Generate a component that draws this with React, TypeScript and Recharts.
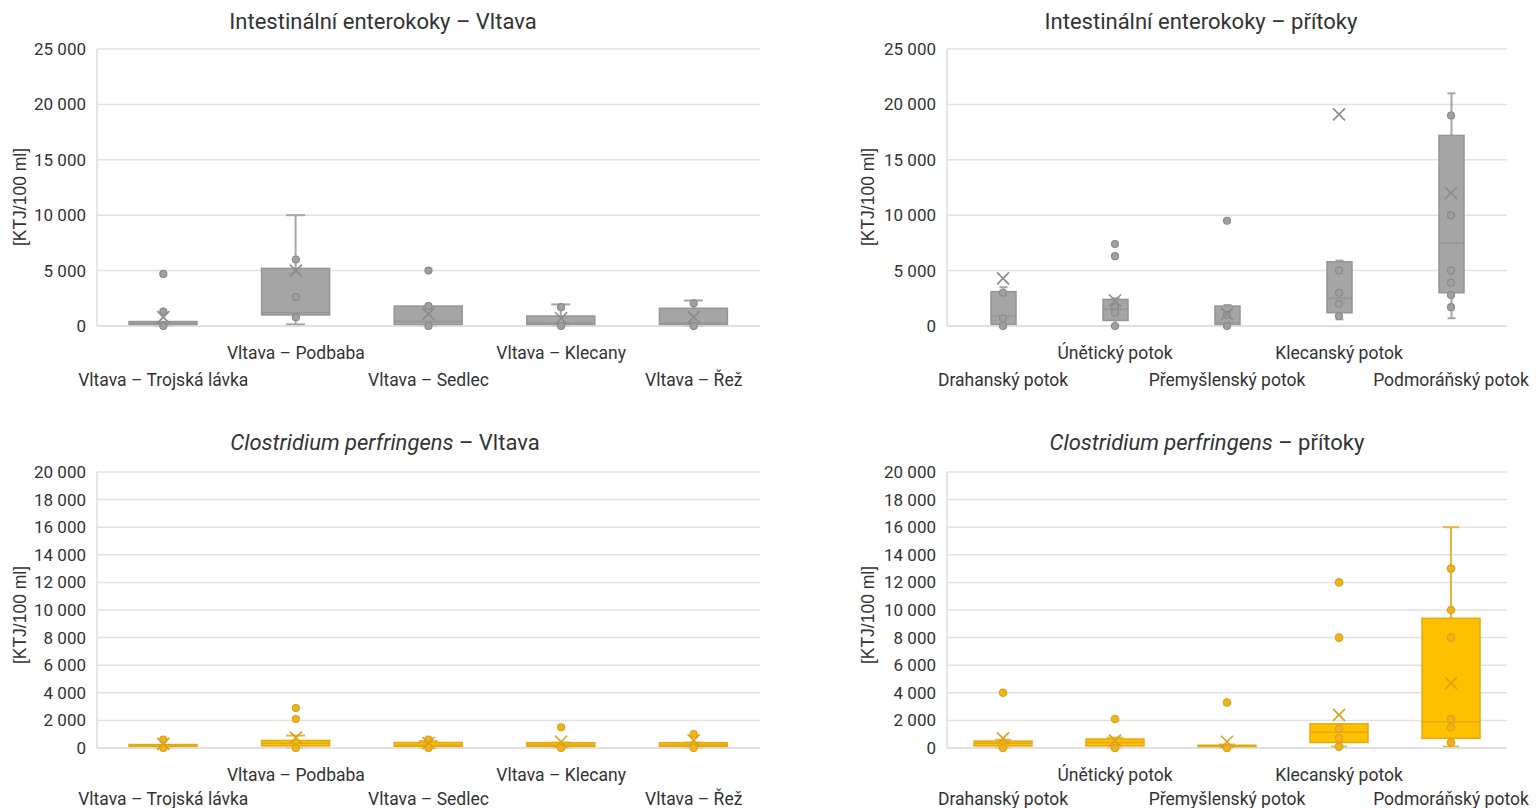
import React from 'react';
import { ComposedChart, Bar, Line, XAxis, YAxis, CartesianGrid } from 'recharts';

// ---------- categories ----------
const vltavaSites = ['Vltava – Trojská lávka', 'Vltava – Podbaba', 'Vltava – Sedlec', 'Vltava – Klecany', 'Vltava – Řež'];
const tributaries = ['Drahanský potok', 'Únětický potok', 'Přemyšlenský potok', 'Klecanský potok', 'Podmoráňský potok'];

// ---------- tick values ----------
const entTicks = [0, 5000, 10000, 15000, 20000, 25000];
const clostTicks = [0, 2000, 4000, 6000, 8000, 10000, 12000, 14000, 16000, 18000, 20000];

// ---------- Intestinální enterokoky – Vltava : [min, q1, median, q3, max] ----------
const entVltavaBox = [
  [0, 100, 200, 400, 400],
  [150, 1000, 1200, 5200, 10000],
  [0, 100, 400, 1800, 1800],
  [0, 100, 250, 900, 1950],
  [0, 100, 250, 1600, 2300],
];
const entVltavaMean = [800, 5000, 1100, 700, 800];
const entVltavaPoints = [[4700, 1300, 0], [6000, 2600, 800], [5000, 1800, 0], [1700, 0], [2050, 0]];

// ---------- Intestinální enterokoky – přítoky ----------
const entTribBox = [
  [0, 150, 900, 3100, 3500],
  [0, 500, 1500, 2400, 2500],
  [0, 100, 300, 1800, 1900],
  [600, 1200, 2500, 5800, 5900],
  [700, 3000, 7500, 17200, 21000],
];
const entTribMean = [4300, 2300, 1100, 19100, 12000];
const entTribPoints = [
  [3000, 700, 0],
  [7400, 6300, 1700, 1200, 0],
  [9500, 1000, 0],
  [5000, 3000, 2000, 900],
  [19000, 10000, 5000, 3900, 2800, 1700],
];

// ---------- Clostridium perfringens – Vltava ----------
const clostVltavaBox = [
  [0, 100, 150, 250, 250],
  [0, 150, 350, 550, 900],
  [0, 100, 200, 400, 500],
  [0, 100, 200, 380, 400],
  [0, 100, 200, 380, 400],
];
const clostVltavaMean = [300, 750, 350, 450, 550];
const clostVltavaPoints = [[600, 0], [2900, 2100, 0], [600, 0], [1500, 0], [1000, 0]];

// ---------- Clostridium perfringens – přítoky ----------
const clostTribBox = [
  [0, 150, 350, 500, 600],
  [0, 150, 400, 650, 750],
  [0, 50, 100, 200, 250],
  [100, 400, 1150, 1750, 1750],
  [100, 700, 1900, 9400, 16000],
];
const clostTribMean = [700, 550, 450, 2400, 4700];
const clostTribPoints = [
  [4000, 0],
  [2100, 0],
  [3300, 0],
  [12000, 8000, 1400, 700, 100],
  [13000, 10000, 8000, 2100, 1500, 400],
];

const MAX_POINTS = 6;

function buildRows(cats: string[], box: number[][], mean: number[], points: number[][]) {
  return cats.map((name, i) => {
    const [min, q1, med, q3, max] = box[i];
    const row: any = { name, min, q1, med, q3, max, range: [min, max], mean: mean[i] };
    for (let j = 0; j < MAX_POINTS; j++) row['p' + j] = points[i][j] ?? null;
    return row;
  });
}

const fmt = (v: number) => String(v).replace(/\B(?=(\d{3})+(?!\d))/g, ' ');

type Palette = { fill: string; stroke: string; dot: string; dotStroke: string; whisker: string };
const GRAY: Palette = { fill: '#a5a5a5', stroke: '#959595', dot: '#a0a0a0', dotStroke: '#8a8a8a', whisker: '#a5a5a5' };
const GOLD: Palette = { fill: '#ffc000', stroke: '#e3aa12', dot: '#f0b41a', dotStroke: '#d9a21a', whisker: '#e9b43a' };

const makeBoxShape = (pal: Palette) => (props: any) => {
  const { x, y, width, height, payload } = props;
  if (x == null || y == null || !payload) return <g />;
  const top = Math.min(y, y + height);
  const h = Math.abs(height);
  const { min, q1, med, q3, max } = payload;
  const py = (v: number) => (max === min ? top : top + (h * (max - v)) / (max - min));
  const cx = x + width / 2;
  const cap = Math.max(8, width * 0.28);
  const yq1 = py(q1), yq3 = py(q3), yMed = py(med), yMin = py(min), yMax = py(max);
  return (
    <g>
      {max > q3 && <line x1={cx} x2={cx} y1={yMax} y2={yq3} stroke={pal.whisker} strokeWidth={2} />}
      {max > q3 && <line x1={cx - cap / 2} x2={cx + cap / 2} y1={yMax} y2={yMax} stroke={pal.whisker} strokeWidth={2} />}
      {min < q1 && <line x1={cx} x2={cx} y1={yq1} y2={yMin} stroke={pal.whisker} strokeWidth={2} />}
      {min < q1 && <line x1={cx - cap / 2} x2={cx + cap / 2} y1={yMin} y2={yMin} stroke={pal.whisker} strokeWidth={2} />}
      <rect x={x} y={yq3} width={width} height={Math.max(1.5, yq1 - yq3)} fill={pal.fill} stroke={pal.stroke} strokeWidth={1.5} />
      <line x1={x} x2={x + width} y1={yMed} y2={yMed} stroke={pal.stroke} strokeWidth={1.5} />
    </g>
  );
};

const makePointDot = (pal: Palette, r: number) => (props: any) => {
  const { cx, cy, index, dataKey } = props;
  const k = `${dataKey}-${index}`;
  if (cx == null || cy == null || props.value == null || isNaN(cy)) return <g key={k} />;
  return <circle key={k} cx={cx} cy={cy} r={r} fill={pal.dot} stroke={pal.dotStroke} strokeWidth={1.2} />;
};

const makeMeanDot = (pal: Palette, s: number) => (props: any) => {
  const { cx, cy, index } = props;
  const k = `mean-${index}`;
  if (cx == null || cy == null || isNaN(cy)) return <g key={k} />;
  return (
    <g key={k}>
      <line x1={cx - s} x2={cx + s} y1={cy - s} y2={cy + s} stroke={pal.dotStroke} strokeWidth={1.6} />
      <line x1={cx - s} x2={cx + s} y1={cy + s} y2={cy - s} stroke={pal.dotStroke} strokeWidth={1.6} />
    </g>
  );
};

const makeStaggerTick = (row2: number) => (props: any) => {
  const { x, y, payload, index } = props;
  return (
    <text x={x} y={y + (index % 2 === 1 ? 33 : row2)} textAnchor="middle" fill="#333" fontSize={17.5} fontFamily="Roboto">
      {payload.value}
    </text>
  );
};

type PanelProps = {
  left: number; top: number; width: number; height: number;
  margin: { top: number; right: number; bottom: number; left: number };
  rows: any[]; ticks: number[]; pal: Palette; barSize: number; dotR: number; row2: number;
};

function Panel({ left, top, width, height, margin, rows, ticks, pal, barSize, dotR, row2 }: PanelProps) {
  const BoxShape = makeBoxShape(pal);
  const Tick = makeStaggerTick(row2);
  const pointKeys = Array.from({ length: MAX_POINTS }, (_, j) => 'p' + j);
  return (
    <div style={{ position: 'absolute', left, top }}>
      <ComposedChart width={width} height={height} data={rows} margin={margin}>
        <CartesianGrid vertical={false} stroke="#e2e2e2" strokeWidth={1.5} />
        <XAxis dataKey="name" interval={0} height={60} tickLine={false} tickSize={0} tickMargin={0}
          axisLine={{ stroke: '#dcdcdc', strokeWidth: 1.5 }} tick={<Tick />} />
        <YAxis width={60} domain={[ticks[0], ticks[ticks.length - 1]]} ticks={ticks} interval={0}
          tickLine={false} tickSize={0} tickMargin={11} tickFormatter={fmt}
          axisLine={{ stroke: '#dcdcdc', strokeWidth: 1.5 }}
          tick={{ fill: '#333', fontSize: 17, fontFamily: 'Roboto' }} />
        <Bar dataKey="range" barSize={barSize} shape={BoxShape} isAnimationActive={false} legendType="none" />
        {pointKeys.map((k) => (
          <Line key={k} dataKey={k} stroke="none" dot={makePointDot(pal, dotR)} activeDot={false}
            isAnimationActive={false} legendType="none" />
        ))}
        <Line dataKey="mean" stroke="none" dot={makeMeanDot(pal, 6)} activeDot={false} isAnimationActive={false} legendType="none" />
      </ComposedChart>
    </div>
  );
}

const titleStyle: React.CSSProperties = {
  position: 'absolute', width: 600, textAlign: 'center', fontFamily: 'Roboto', fontSize: 22,
  lineHeight: '26px', color: '#333', whiteSpace: 'nowrap',
};

function Title({ cx, cy, children }: { cx: number; cy: number; children: React.ReactNode }) {
  return <div style={{ ...titleStyle, left: cx - 300, top: cy - 13 }}>{children}</div>;
}

function YTitle({ cx, cy }: { cx: number; cy: number }) {
  return (
    <div style={{
      position: 'absolute', left: cx, top: cy, transform: 'translate(-50%, -50%) rotate(-90deg)',
      fontFamily: 'Liberation Sans', fontSize: 17.5, color: '#333', whiteSpace: 'nowrap',
    }}>[KTJ/100 ml]</div>
  );
}

export default function App() {
  const rowsEV = buildRows(vltavaSites, entVltavaBox, entVltavaMean, entVltavaPoints);
  const rowsET = buildRows(tributaries, entTribBox, entTribMean, entTribPoints);
  const rowsCV = buildRows(vltavaSites, clostVltavaBox, clostVltavaMean, clostVltavaPoints);
  const rowsCT = buildRows(tributaries, clostTribBox, clostTribMean, clostTribPoints);
  return (
    <div style={{ position: 'absolute', left: 0, top: 0, width: 1539, height: 808, background: '#fff', overflow: 'hidden' }}>
      <Panel left={0} top={0} width={770} height={400} margin={{ top: 49, right: 10, bottom: 14, left: 37 }}
        rows={rowsEV} ticks={entTicks} pal={GRAY} barSize={68} dotR={3.5} row2={60} />
      <Panel left={780} top={0} width={759} height={400} margin={{ top: 49, right: 32, bottom: 14, left: 107 }}
        rows={rowsET} ticks={entTicks} pal={GRAY} barSize={25} dotR={3.5} row2={60} />
      <Panel left={0} top={400} width={770} height={408} margin={{ top: 72, right: 10, bottom: 0, left: 37 }}
        rows={rowsCV} ticks={clostTicks} pal={GOLD} barSize={68} dotR={3.5} row2={57} />
      <Panel left={780} top={400} width={759} height={408} margin={{ top: 72, right: 32, bottom: 0, left: 107 }}
        rows={rowsCT} ticks={clostTicks} pal={GOLD} barSize={58} dotR={3.7} row2={57} />

      <Title cx={383} cy={22}>Intestinální enterokoky – Vltava</Title>
      <Title cx={1201} cy={22}>Intestinální enterokoky – přítoky</Title>
      <Title cx={385} cy={443}><i>Clostridium perfringens</i> – Vltava</Title>
      <Title cx={1207} cy={443}><i>Clostridium perfringens</i> – přítoky</Title>

      <YTitle cx={20} cy={197} />
      <YTitle cx={868} cy={197} />
      <YTitle cx={20} cy={615} />
      <YTitle cx={868} cy={615} />
    </div>
  );
}
